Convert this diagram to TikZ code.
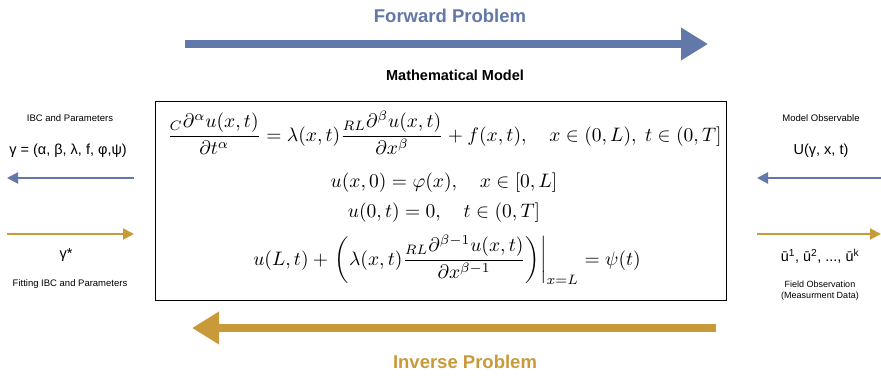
\documentclass[tikz,border=0pt]{standalone}
\usepackage{amsmath}
\usepackage{fontspec}
\setmainfont{Liberation Sans}
\usetikzlibrary{arrows.meta}
\definecolor{fblue}{HTML}{6178A8}
\definecolor{igold}{HTML}{C99A3A}
\newcommand{\eqline}[1]{\scalebox{1.95}{$\displaystyle #1$}}
\begin{document}
\begin{tikzpicture}[x=1pt,y=-1pt,
  bigarrow/.style={line width=8pt,-{Triangle[length=27pt,width=31pt]}},
  smallarrow/.style={line width=2pt,-{Triangle[length=11pt,width=11pt]}},
  title/.style={font=\fontsize{18.5}{21}\selectfont\bfseries},
  small/.style={font=\fontsize{9.5}{11.5}\selectfont},
  mid/.style={font=\fontsize{14.5}{17}\selectfont},
  eqn/.style={inner sep=0pt}]
\useasboundingbox (0,0) rectangle (881,377);
% forward
\node[title,text=fblue] (fwdt) at (450,16) {Forward Problem};
\coordinate (fs) at (185,44);
\coordinate (fe) at (708,44);
\draw[bigarrow,fblue] (fs) -- (fe);
\node[font=\fontsize{14.5}{16}\selectfont\bfseries] (mm) at (455,75) {Mathematical Model};
% box
\node[draw,line width=1pt,minimum width=571pt,minimum height=198pt,inner sep=0pt] (box) at (441,201) {};
\node[eqn] (e1) at (444.5,133) {\eqline{\frac{{}_{C}\partial^{\alpha}u(x,t)}{\partial t^{\alpha}}=\lambda(x,t)\frac{{}_{RL}\partial^{\beta}u(x,t)}{\partial x^{\beta}}+f(x,t),\quad x\in(0,L),\ t\in(0,T]}};
\node[eqn] (e2) at (444,183) {\eqline{u(x,0)=\varphi(x),\quad x\in[0,L]}};
\node[eqn] (e3) at (444,213) {\eqline{u(0,t)=0,\quad t\in(0,T]}};
\node[eqn] (e4) at (447,260) {\eqline{u(L,t)+\left.\left(\lambda(x,t)\frac{{}_{RL}\partial^{\beta-1}u(x,t)}{\partial x^{\beta-1}}\right)\right|_{x=L}=\psi(t)}};
% inverse
\coordinate (is) at (716,328);
\coordinate (ie) at (192,328);
\draw[bigarrow,igold] (is) -- (ie);
\node[title,text=igold] (invt) at (465,362) {Inverse Problem};
% left
\node[small] (ibc) at (70,118) {IBC and Parameters};
\node[mid] (gam) at (68,151) {γ = (α, β, λ, f, φ,ψ)};
\coordinate (lb1) at (134,178);
\coordinate (lb2) at (7,178);
\draw[smallarrow,fblue] (lb1) -- (lb2);
\coordinate (lg1) at (7,234);
\coordinate (lg2) at (134,234);
\draw[smallarrow,igold] (lg1) -- (lg2);
\node[mid] (gs) at (66,255) {γ*};
\node[small] (fit) at (70,284) {Fitting IBC and Parameters};
% right
\node[small] (mo) at (821,118) {Model Observable};
\node[mid] (U) at (821,151) {U(γ, x, t)};
\coordinate (rb1) at (881,178);
\coordinate (rb2) at (757,178);
\draw[smallarrow,fblue] (rb1) -- (rb2);
\coordinate (rg1) at (757,234);
\coordinate (rg2) at (881,234);
\draw[smallarrow,igold] (rg1) -- (rg2);
\node[mid] (obs) at (820,256) {ū\textsuperscript{1}, ū\textsuperscript{2}, ..., ū\textsuperscript{k}};
\node[small,align=center,font=\fontsize{9}{11}\selectfont] (fo) at (820,291) {Field Observation\\(Measurment Data)};
\end{tikzpicture}
\end{document}
